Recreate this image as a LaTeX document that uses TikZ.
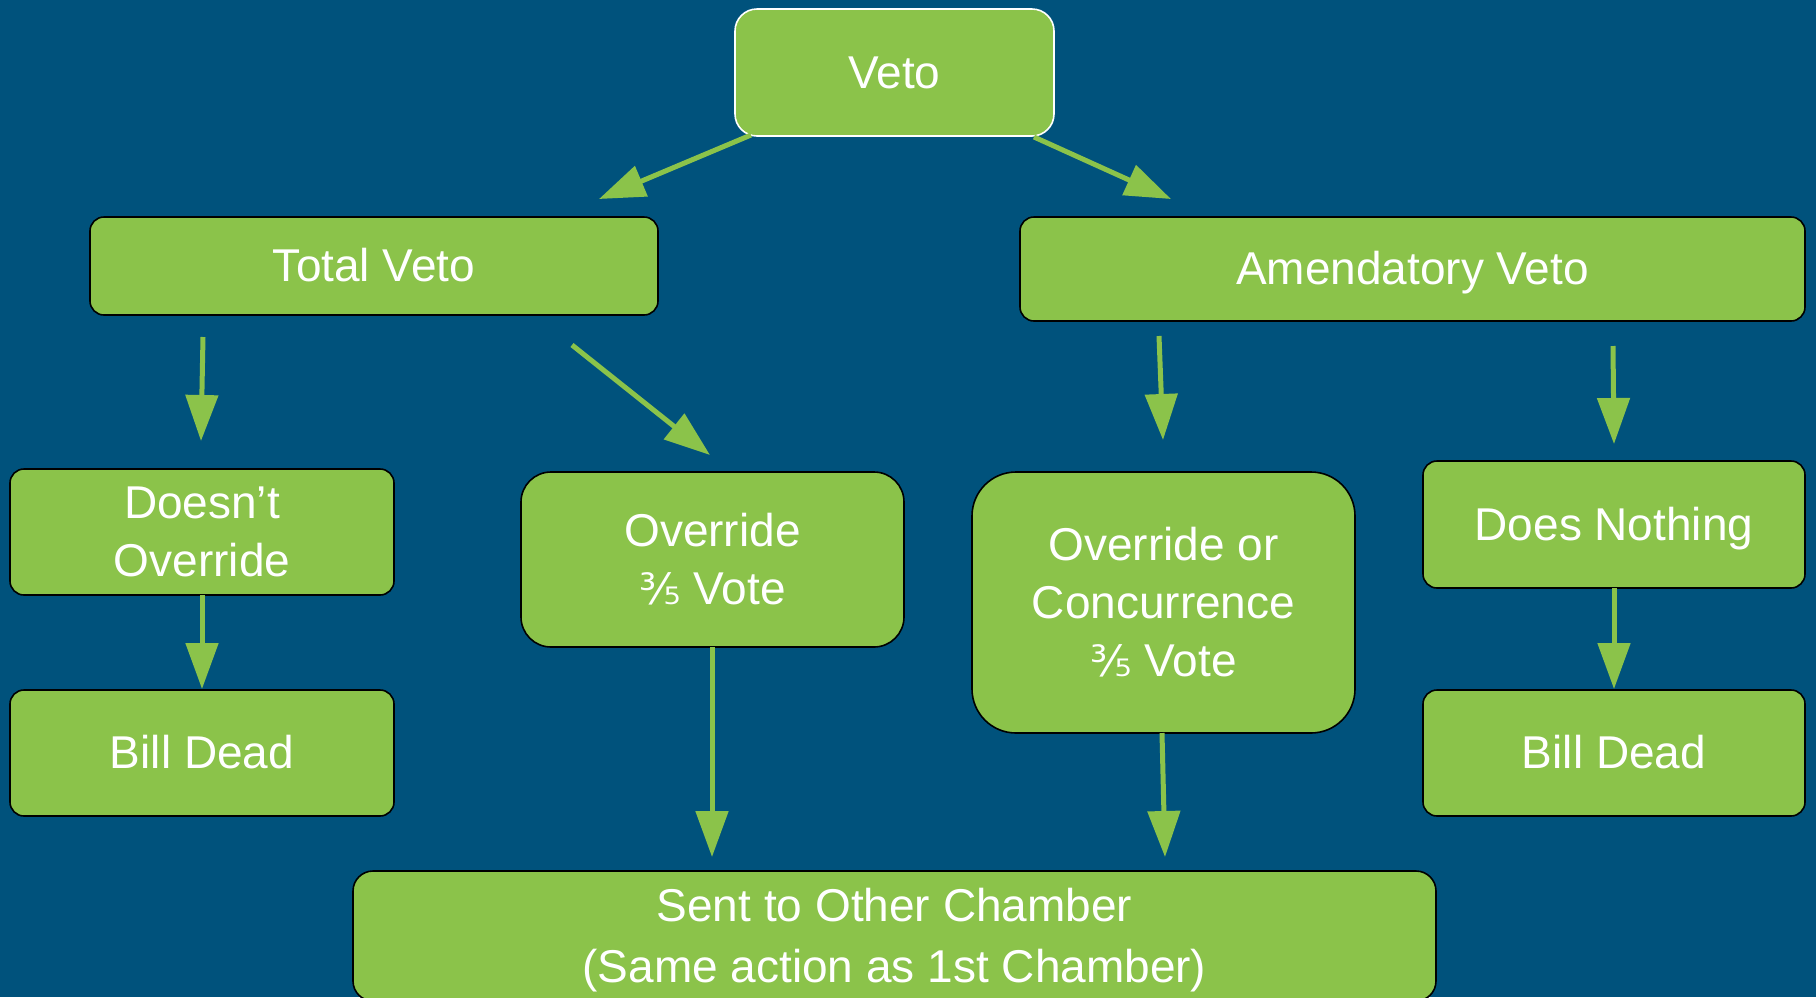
\documentclass[tikz,border=0pt]{standalone}
\usepackage{fontspec}
\setmainfont{Liberation Sans}
\newfontfamily\fracfont{DejaVu Sans}
\usetikzlibrary{arrows.meta}
\definecolor{bgblue}{RGB}{0,82,124}
\definecolor{leaf}{RGB}{139,195,74}
\newcommand{\tfifth}{{\fracfont\fontsize{43}{46}\selectfont ⅗}}
\newcommand{\tx}[2][4pt]{\raisebox{-#1}[\height][\depth]{\begin{tabular}{@{}c@{}}#2\end{tabular}}}
\tikzset{
  box/.style={draw=black, line width=1.6pt, fill=leaf, text=white, rounded corners=14pt,
    inner sep=0pt, font=\fontsize{46}{58}\selectfont},
  vetobox/.style={box, draw=white, rounded corners=22pt},
  link/.style={draw=leaf, line width=5pt, -{Triangle[length=46pt, width=32pt]}, leaf},
}
\begin{document}
\begin{tikzpicture}[x=1pt, y=-1pt]
\useasboundingbox (0,0) rectangle (1816,997);
\fill[bgblue] (0,0) rectangle (1816,997);

\node[vetobox, minimum width=319pt, minimum height=127pt] (veto) at (894.5,72.5) {\tx{Veto}};
\node[box, minimum width=568pt, minimum height=98pt] (tv) at (374,266) {\tx{Total Veto}};
\node[box, minimum width=785pt, minimum height=104pt] (av) at (1412.5,269) {\tx{Amendatory Veto}};
\node[box, minimum width=384pt, minimum height=126pt] (dno) at (202,532) {\tx{Doesn’t\\Override}};
\node[box, rounded corners=30pt, minimum width=383pt, minimum height=175pt] (ov) at (712.5,559.5) {\tx{Override\\\tfifth\ Vote}};
\node[box, rounded corners=44pt, minimum width=383pt, minimum height=261pt] (oc) at (1163.5,602.5) {\tx{Override or\\Concurrence\\\tfifth\ Vote}};
\node[box, minimum width=382pt, minimum height=127pt] (dn) at (1614,524.5) {\tx{Does Nothing}};
\node[box, minimum width=384pt, minimum height=126pt] (bd1) at (202,753) {\tx{Bill Dead}};
\node[box, minimum width=382pt, minimum height=126pt] (bd2) at (1614,753) {\tx{Bill Dead}};
\node[box, rounded corners=20pt, minimum width=1083pt, minimum height=130pt,
  font=\fontsize{46}{61}\selectfont] (sent) at (894.5,936) {\tx{Sent to Other Chamber\\(Same action as 1st Chamber)}};

% connector ends
\coordinate (a1s) at (751,135);  \coordinate (a1e) at (599,199);
\coordinate (a2s) at (1034,137); \coordinate (a2e) at (1171,199);
\coordinate (a3s) at (203,337);  \coordinate (a3e) at (201,441);
\coordinate (a4s) at (572,345);  \coordinate (a4e) at (710,455);
\coordinate (a5s) at (1159,336); \coordinate (a5e) at (1163,440);
\coordinate (a6s) at (1613,346); \coordinate (a6e) at (1614,444);
\coordinate (a7s) at (202,595);  \coordinate (a7e) at (202,689);
\coordinate (a8s) at (1614,588); \coordinate (a8e) at (1614,689);
\coordinate (a9s) at (712,647);  \coordinate (a9e) at (712,857);
\coordinate (a10s) at (1162,733); \coordinate (a10e) at (1165,857);

\draw[link] (a1s) -- (a1e);
\draw[link] (a2s) -- (a2e);
\draw[link] (a3s) -- (a3e);
\draw[link] (a4s) -- (a4e);
\draw[link] (a5s) -- (a5e);
\draw[link] (a6s) -- (a6e);
\draw[link] (a7s) -- (a7e);
\draw[link] (a8s) -- (a8e);
\draw[link] (a9s) -- (a9e);
\draw[link] (a10s) -- (a10e);
\end{tikzpicture}
\end{document}
